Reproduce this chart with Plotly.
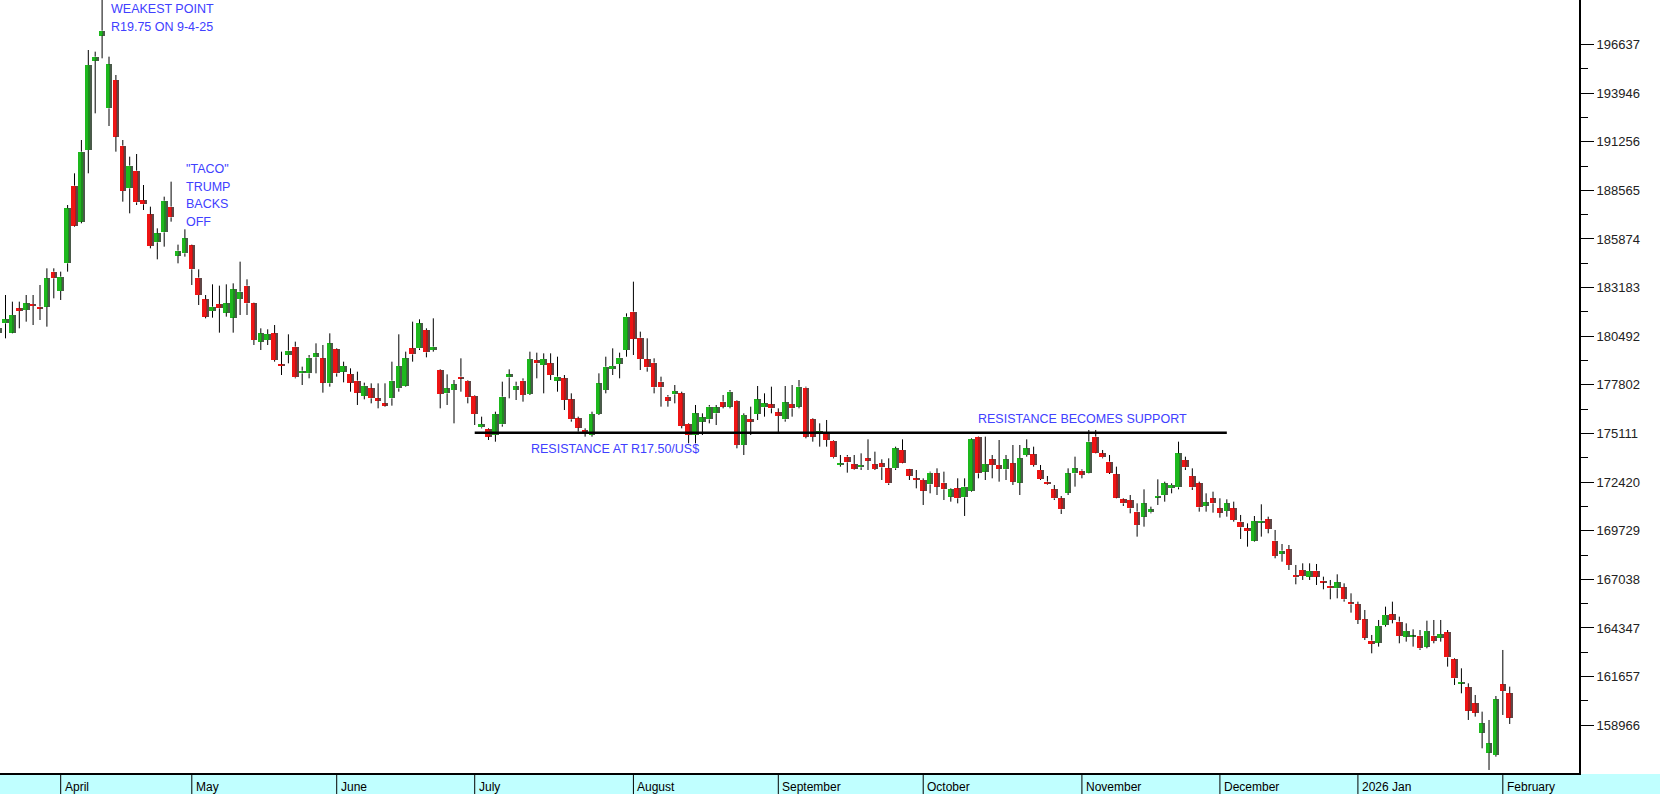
import pandas as pd
import plotly.graph_objects as go

# ---------------- data ----------------
sa_holidays = ["2025-03-21", "2025-04-18", "2025-04-21", "2025-04-28", "2025-05-01",
               "2025-06-16", "2025-09-24", "2025-12-16", "2025-12-25", "2025-12-26",
               "2026-01-01"]
trade_days = [d for d in pd.bdate_range("2025-03-18", "2026-02-03")
              if d.strftime("%Y-%m-%d") not in sa_holidays]

opens = [
    180653, 181206, 180690, 182037, 181944, 182276, 182128, 182128, 184066, 182996,
    184527, 188825, 186833, 190799, 195743, 197126, 193105, 194673, 191039, 188677,
    189655, 188013, 187239, 185689, 186242, 187663, 184951, 185080, 185524, 183734,
    182535, 181889, 182276, 181797, 181520, 182553, 183291, 182313, 180192, 180284,
    180653, 178937, 179454, 179915, 178439, 178439, 179325, 179270, 177886, 179767,
    178531, 178402, 178033, 177185, 177609, 177056, 176779, 177056, 177609, 177757,
    179823, 179823, 180838, 179730, 178624, 177332, 177517, 178255, 178033, 177203,
    175451, 175340, 175026, 175616, 178218, 177517, 178033, 177295, 179177, 178900,
    178993, 178033, 178162, 177000, 175949, 175303, 175026, 176188, 177517, 178679,
    178956, 179730, 181852, 180413, 179214, 179029, 177978, 177148, 177277, 177332,
    175634, 175026, 175764, 175893, 176225, 176871, 176594, 176926, 174473, 175893,
    176188, 176557, 176723, 176281, 175893, 176742, 176594, 177646, 175894, 175119,
    175119, 174713, 173367, 173828, 173422, 173238, 173736, 173404, 173459, 173182,
    173182, 174197, 173127, 172629, 172536, 172297, 172905, 172389, 171614, 172075,
    171577, 171946, 174935, 172998, 173680, 173367, 173127, 173459, 172389, 173920,
    173957, 173090, 172444, 172020, 171522, 171836, 172905, 173053, 172942, 174935,
    174012, 173551, 172850, 171467, 171430, 170784, 170508, 170747, 171577, 171706,
    172075, 172131, 173643, 172758, 172352, 171116, 171522, 170969, 170821, 170969,
    170231, 169862, 169179, 170175, 170360, 169179, 168441, 168700, 167279, 167556,
    167187, 167519, 166966, 166689, 166542, 166597, 165767, 165656, 164826, 163645,
    163535, 164512, 165102, 164697, 163867, 163867, 163922, 163314, 163922, 163811,
    164106, 162612, 161284, 161063, 160177, 158554, 157447, 157318, 161229, 160731,
]
highs = [
    181114, 182774, 182405, 182405, 182774, 182774, 183328, 184250, 184250, 184066,
    187755, 189508, 191352, 196333, 196241, 199500, 195964, 194949, 191352, 190430,
    190577, 188862, 187663, 186464, 188216, 189046, 185561, 186409, 185561, 184195,
    182774, 183365, 183291, 183365, 183420, 184619, 183641, 182350, 180930, 180875,
    181114, 179638, 180598, 180192, 178808, 179454, 180099, 180007, 180653, 179823,
    179085, 178716, 178531, 177923, 177886, 177886, 177886, 179085, 180598, 179638,
    181299, 181428, 180930, 181483, 178661, 178383, 178070, 179270, 178070, 177240,
    176041, 175395, 176317, 177978, 178660, 177978, 178162, 179638, 179583, 179546,
    179546, 179361, 178347, 177332, 176041, 175395, 176317, 178439, 179361, 179822,
    179583, 181759, 183512, 180745, 180376, 179269, 178255, 177240, 177793, 177424,
    175671, 176687, 176225, 176687, 176687, 177240, 177517, 176963, 176225, 176594,
    177738, 177332, 177701, 176502, 177738, 177793, 178070, 177701, 175949, 175673,
    175857, 174750, 173920, 173920, 173920, 174012, 174787, 174104, 173680, 173736,
    174381, 174787, 173150, 173090, 172629, 172998, 173182, 172998, 172075, 172629,
    172629, 174842, 174960, 174935, 173920, 174750, 173920, 174473, 174473, 174787,
    174381, 173367, 172758, 172260, 171651, 173182, 173828, 173127, 175304, 175304,
    174197, 173920, 173274, 171522, 171706, 171245, 172020, 171061, 172573, 172444,
    172352, 174658, 173828, 173182, 172444, 171799, 171891, 171522, 171467, 171338,
    170600, 170138, 170544, 171190, 170507, 169770, 168995, 168939, 167833, 167925,
    167925, 167888, 167187, 167003, 167316, 166818, 166265, 165803, 165342, 163959,
    164789, 165527, 165803, 164973, 164604, 164272, 164235, 164752, 164789, 164789,
    164235, 162668, 162114, 161284, 160638, 159716, 159255, 160583, 163129, 161100,
]
lows = [
    180469, 180377, 180653, 180930, 181299, 181114, 181391, 181022, 182590, 182498,
    184066, 186556, 186741, 189508, 192828, 195872, 192127, 190707, 187940, 187294,
    187755, 187478, 185357, 184748, 185449, 186833, 184527, 184896, 183328, 182221,
    181483, 181520, 180690, 181575, 180690, 181668, 181668, 180007, 179730, 180007,
    179085, 178347, 178993, 178163, 177793, 178163, 178439, 177369, 177701, 178255,
    177941, 177424, 176687, 177000, 176779, 176502, 176594, 176650, 177424, 177701,
    179085, 179730, 179325, 179638, 176502, 176687, 175672, 177424, 176779, 175580,
    175395, 174750, 174657, 175488, 177055, 176963, 176871, 177240, 178162, 177332,
    178070, 177424, 176410, 175764, 175211, 174934, 174934, 176133, 177332, 178347,
    178162, 179361, 179454, 178623, 178531, 177332, 176594, 176594, 176779, 175395,
    174565, 174565, 175026, 175671, 175579, 176502, 176502, 174289, 173920, 175026,
    175856, 176041, 176225, 175155, 175764, 176041, 176502, 174842, 174658, 174381,
    174381, 173736, 173274, 172942, 173090, 173090, 173090, 173090, 172536, 172260,
    173090, 173459, 172536, 172075, 171153, 171799, 171706, 171430, 171337, 171245,
    170545, 171891, 172629, 172536, 172629, 172444, 172536, 172260, 171706, 173828,
    173274, 172536, 172260, 171430, 170655, 171706, 172168, 172629, 172905, 174012,
    173736, 172868, 171522, 171098, 170692, 169401, 169954, 170692, 171153, 171337,
    171799, 172020, 173090, 171983, 170784, 170784, 170729, 170452, 170507, 170231,
    169272, 168847, 169124, 169401, 169585, 168202, 168017, 167556, 166763, 167003,
    167003, 166726, 166486, 165933, 165988, 165803, 165195, 164567, 163682, 162945,
    163314, 164420, 164604, 163498, 163590, 163314, 163129, 163221, 163498, 163590,
    162207, 161192, 160731, 159255, 159440, 157687, 156488, 157226, 159532, 159034,
]
closes = [
    180930, 181428, 181668, 181889, 182313, 182165, 182018, 183697, 183697, 183789,
    187571, 186612, 190707, 195503, 195964, 197403, 195540, 191537, 188530, 189932,
    187903, 187792, 185486, 186187, 187995, 187073, 185228, 185911, 184195, 182774,
    181575, 182129, 182036, 182313, 183088, 182959, 182313, 180284, 180653, 180616,
    179177, 178845, 179694, 178218, 178587, 179306, 179546, 177923, 180099, 178439,
    178845, 177923, 177369, 177757, 177056, 176927, 176650, 178033, 178845, 179270,
    179491, 181206, 179601, 179915, 177296, 177609, 177830, 178163, 177111, 176188,
    175616, 174934, 176188, 177148, 178384, 177756, 177240, 179232, 178993, 179232,
    178347, 178255, 176963, 175893, 175432, 175174, 176188, 177886, 178808, 178845,
    179306, 181575, 180339, 179232, 178771, 177664, 177664, 176908, 177461, 175524,
    175026, 176225, 176004, 176594, 176557, 176594, 177424, 174473, 176133, 175764,
    177000, 176779, 176502, 176078, 176834, 176502, 177701, 174934, 174935, 175248,
    174750, 173791, 173459, 173514, 173127, 173367, 173606, 173145, 173238, 172352,
    174289, 173496, 172758, 172536, 171946, 172942, 172168, 172020, 172020, 171522,
    172168, 174787, 172905, 173422, 173367, 173145, 173680, 172444, 173736, 174289,
    173367, 172592, 172297, 171522, 170913, 172905, 173182, 172813, 174658, 174049,
    173791, 172942, 171559, 171245, 170968, 170046, 171245, 170913, 171651, 172352,
    172260, 174012, 173238, 172131, 171024, 171301, 171245, 170729, 171245, 170323,
    169917, 169714, 170268, 170286, 169825, 168331, 168626, 167833, 167150, 167224,
    167501, 167187, 166874, 166542, 166874, 165933, 165656, 164789, 163811, 163461,
    164457, 165066, 164789, 163904, 164180, 163890, 163221, 164180, 163627, 163996,
    162723, 161561, 161358, 159771, 159661, 159071, 157964, 160399, 160860, 159385,
]

y_tick_values = [196637, 193946, 191256, 188565, 185874, 183183, 180492, 177802,
                 175111, 172420, 169729, 167038, 164347, 161657, 158966]
month_labels = ["April", "May", "June", "July", "August", "September", "October",
                "November", "December", "2026 Jan", "February"]

resistance_level = 175150
resistance_from = "2025-07-01"
resistance_to = "2025-12-02"

# ---------------- styling ----------------
W, H = 1660, 794
ML, MR, MT, MB = 0, 81, 0, 21
PLOT_W = W - ML - MR
PLOT_H = H - MT - MB
X_LO, X_HI = 0.203, 229.04
Y_LO, Y_HI = 156321, 199100

GREEN, GREEN_MID, GREEN_DARK = "#1db81d", "#1f8a1f", "#4a5a4a"
RED, RED_MID, RED_DARK = "#ee1414", "#b01a1a", "#5e4646"
TEXT_BLUE = "#4040ff"
FONT = "Arial, Liberation Sans, sans-serif"

n = len(trade_days)
xs = list(range(n))
up = [c >= o for o, c in zip(opens, closes)]
body_lo = [min(o, c) for o, c in zip(opens, closes)]
body_hi = [max(o, c) for o, c in zip(opens, closes)]
body_h = [max(h - l, 70) for h, l in zip(body_hi, body_lo)]

fig = go.Figure()

# candle bodies with a darker right edge (3D look)
for width, offset, cu, cd in [(0.94, -0.47, GREEN, RED),
                              (0.47, 0.0, GREEN_MID, RED_MID),
                              (0.2, 0.27, GREEN_DARK, RED_DARK)]:
    fig.add_trace(go.Bar(
        x=xs, y=body_h, base=body_lo, width=width, offset=offset,
        marker=dict(color=[cu if u else cd for u in up], line=dict(width=0)),
        hoverinfo="skip"))

# wicks (above and below body)
wx, wy = [], []
for i in xs:
    wx += [i, i, None, i, i, None]
    wy += [highs[i], body_hi[i], None, body_lo[i], lows[i], None]
fig.add_trace(go.Scatter(x=wx, y=wy, mode="lines",
                         line=dict(color="black", width=1), hoverinfo="skip"))

# ---------------- resistance line ----------------
day_index = {d.strftime("%Y-%m-%d"): i for i, d in enumerate(trade_days)}
shapes = [dict(type="line", xref="x", yref="y",
               x0=day_index[resistance_from], x1=day_index[resistance_to],
               y0=resistance_level, y1=resistance_level,
               line=dict(color="black", width=2.5))]

# ---------------- month strip ----------------
def to_paper(xv):
    return (xv - X_LO) / (X_HI - X_LO)

strip_y0 = -MB / PLOT_H
strip_y1 = -1 / PLOT_H
shapes.append(dict(type="rect", xref="paper", yref="paper",
                   x0=0, x1=W / PLOT_W, y0=strip_y0, y1=strip_y1,
                   fillcolor="#c0ffff", line=dict(width=0), layer="below"))
month_starts = [i for i in range(1, n) if trade_days[i].month != trade_days[i - 1].month]
annotations = []
for i, lab in zip(month_starts, month_labels):
    px = to_paper(i)
    shapes.append(dict(type="line", xref="paper", yref="paper",
                       x0=px, x1=px, y0=strip_y0, y1=strip_y1,
                       line=dict(color="black", width=1)))
    annotations.append(dict(xref="paper", yref="paper", x=px, y=-13.5 / PLOT_H,
                            text=lab, showarrow=False, xanchor="left",
                            yanchor="middle", xshift=2,
                            font=dict(family=FONT, size=12, color="black")))

# ---------------- chart notes ----------------
notes = [("WEAKEST POINT", 16.0, 198620),
         ("R19.75 ON 9-4-25", 16.0, 197630),
         ('"TACO"', 26.85, 189720),
         ("TRUMP", 26.85, 188750),
         ("BACKS", 26.85, 187810),
         ("OFF", 26.85, 186830),
         ("RESISTANCE AT R17.50/US$", 76.85, 174240),
         ("RESISTANCE BECOMES SUPPORT", 141.65, 175900)]
for txt, nx, ny in notes:
    annotations.append(dict(xref="x", yref="y", x=nx, y=ny, text=txt,
                            showarrow=False, xanchor="left", yanchor="middle",
                            font=dict(family=FONT, size=12.5, color=TEXT_BLUE)))

minor_vals = [(a + b) / 2 for a, b in zip(y_tick_values[:-1], y_tick_values[1:])]

fig.update_layout(
    width=W, height=H,
    margin=dict(l=ML, r=MR, t=MT, b=MB, pad=0),
    paper_bgcolor="white", plot_bgcolor="white",
    showlegend=False, barmode="overlay", bargap=0,
    shapes=shapes, annotations=annotations,
    xaxis=dict(range=[X_LO, X_HI], showgrid=False, zeroline=False,
               showticklabels=False, ticks="", showline=True,
               linecolor="black", linewidth=1.5, fixedrange=True),
    yaxis=dict(range=[Y_LO, Y_HI], side="right", showgrid=False, zeroline=False,
               tickmode="array", tickvals=y_tick_values,
               ticktext=[str(v) for v in y_tick_values],
               ticks="outside", ticklen=13, tickwidth=1.3, tickcolor="black",
               showline=True, linecolor="black", linewidth=2,
               tickfont=dict(family=FONT, size=13, color="#222222"),
               minor=dict(tickmode="array", tickvals=minor_vals, ticks="outside",
                          ticklen=7, tickwidth=1.3, tickcolor="black"),
               fixedrange=True),
)

fig.write_html(
    "out.html",
    config={"displayModeBar": False},
    post_script="document.body.style.margin='0px';document.body.style.overflow='hidden';",
)
